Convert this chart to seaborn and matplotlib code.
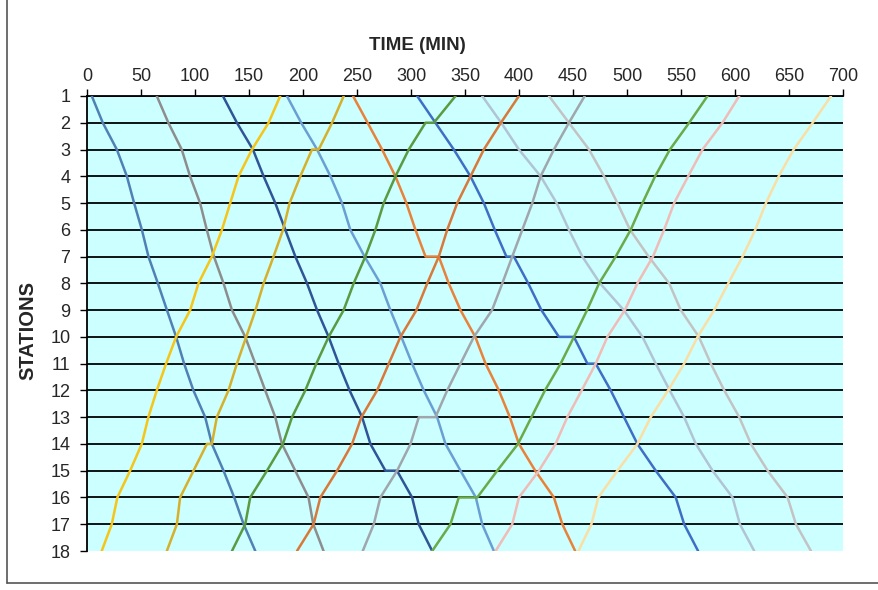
import matplotlib
matplotlib.use("Agg")
import matplotlib.pyplot as plt
import matplotlib.lines as mlines
import seaborn as sns
import pandas as pd

# ---------------- data ----------------
stations = list(range(1, 19))
down = list(range(1, 19))
up = list(range(18, 0, -1))
x_ticks = list(range(0, 701, 50))

# Trains running station 1 -> 18
t_A = [4.4, 14.6, 27.6, 36.9, 43.6, 50.8, 56.9, 65.6, 74, 82.5, 89.9, 98.5, 109.4, 115.6, 126.4, 136.3, 145, 155.8]
s_A = down
t_B = [64.6, 75.3, 87.7, 95.4, 104.7, 110.9, 117.5, 126.4, 134.2, 146.5, 155.8, 165, 174.3, 180.5, 192.8, 205.1, 209.5, 219]
s_B = down
t_C = [125.8, 138.8, 153.6, 163.5, 174.3, 183.6, 192.9, 203.7, 213, 223.7, 233, 243.1, 254.7, 262.4, 276.3, 287, 301, 307.1, 319.6]
s_C = [1, 2, 3, 4, 5, 6, 7, 8, 9, 10, 11, 12, 13, 14, 15, 15, 16, 17, 18]
t_D = [185.1, 198.3, 213, 225.4, 236.1, 243.8, 257, 271.6, 280.9, 291, 301, 311.8, 324.2, 331.9, 345.8, 360, 365.9, 376.7]
s_D = down
t_E = [246.3, 259.8, 273.2, 285.5, 295.7, 304.1, 313.4, 325.7, 334.9, 345.8, 359.5, 369, 381.3, 391.5, 399.9, 415, 432.3, 440.1, 452]
s_E = [1, 2, 3, 4, 5, 6, 7, 7, 8, 9, 10, 11, 12, 13, 14, 15, 16, 17, 18]
t_F = [305.7, 322.6, 339.6, 355, 367.4, 377.5, 388.3, 395.2, 408.5, 420.7, 436.9, 450.8, 463.3, 471, 484.9, 497.2, 509.6, 526.6, 545.1, 552.9, 565.8]
s_F = [1, 2, 3, 4, 5, 6, 7, 7, 8, 9, 10, 10, 11, 11, 12, 13, 14, 15, 16, 17, 18]
t_G = [365.9, 383.5, 399.9, 420, 434.8, 446.2, 458.6, 475, 497, 514.3, 526.6, 539.5, 552.9, 563.7, 579.2, 597.7, 604.5, 617.8]
s_G = down
t_H = [427.7, 446.2, 464.8, 478.7, 491.1, 502.8, 520, 539, 549.8, 566.5, 577.6, 590, 603.9, 614.7, 630.2, 648.7, 656.4, 670.3]
s_H = down

# Trains running station 18 -> 1
t_I = [255.3, 265.5, 271.6, 287.1, 299.5, 307.2, 322.6, 333.5, 345.8, 358.2, 375, 384.5, 393.7, 403, 412.3, 420, 432.3, 446.2, 460.8]
s_I = [18, 17, 16, 15, 14, 13, 13, 12, 11, 10, 9, 8, 7, 6, 5, 4, 3, 2, 1]
t_J = [455, 467, 473.4, 491.1, 509.6, 521.9, 538, 552.9, 565.3, 580.7, 593.7, 607, 618.7, 628.6, 640.4, 654.3, 671.9, 688.9]
s_J = up
t_K = [378.3, 393.7, 399.9, 418.4, 433.8, 444.7, 458, 471, 481.8, 498, 509.6, 524, 534.3, 543.6, 556.6, 569.9, 588.4, 603.9]
s_K = up
t_L = [319.6, 336.5, 344.2, 361.3, 379.8, 399, 411.5, 424, 438.5, 450.9, 463, 474.1, 489.5, 503.4, 514.3, 526, 539.7, 557.5, 574.5]
s_L = [18, 17, 16, 16, 15, 14, 13, 12, 11, 10, 9, 8, 7, 6, 5, 4, 3, 2, 1]
t_M = [194.4, 209.8, 216, 231.5, 245.4, 254, 268.6, 279.4, 290.2, 305, 315, 325.7, 333.5, 342.8, 355.1, 367.4, 383.2, 399.9]
s_M = up
t_N = [134.2, 146.5, 151.1, 166.6, 181.4, 189.8, 202.1, 212.3, 223.7, 237.6, 246.9, 257.7, 267, 274.7, 285.6, 297.9, 313.4, 321.1, 341.2]
s_N = [18, 17, 16, 15, 14, 13, 12, 11, 10, 9, 8, 7, 6, 5, 4, 3, 2, 2, 1]
t_P = [13.6, 22.9, 28.1, 39.9, 50.7, 56.8, 64.6, 73.2, 82.5, 95.5, 103.2, 115.6, 124.9, 132.6, 140.3, 152.7, 168.1, 178.9]
s_P = up
t_Q = [73.9, 83.2, 86.2, 98.6, 111, 115.6, 120.2, 131, 138.8, 147.4, 156, 163.5, 172.7, 181.5, 187.6, 197.5, 208.3, 214.5, 226.9, 237.7]
s_Q = [18, 17, 16, 15, 14, 14, 13, 12, 11, 10, 9, 8, 7, 6, 5, 4, 3, 3, 2, 1]

trains = {
    "A": (t_A, s_A), "B": (t_B, s_B), "C": (t_C, s_C), "D": (t_D, s_D),
    "E": (t_E, s_E), "F": (t_F, s_F), "G": (t_G, s_G), "H": (t_H, s_H),
    "I": (t_I, s_I), "J": (t_J, s_J), "K": (t_K, s_K), "L": (t_L, s_L),
    "M": (t_M, s_M), "N": (t_N, s_N), "P": (t_P, s_P), "Q": (t_Q, s_Q),
}
colors = {
    "A": "#4f81b5", "B": "#8d8d8d", "C": "#2f5597", "D": "#6a9fd4",
    "E": "#e8823a", "F": "#3f6fc4", "G": "#b0c4d4", "H": "#c3c3c3",
    "I": "#a0a6ab", "J": "#fadfa5", "K": "#f0bcb8", "L": "#6aaa48",
    "M": "#d8793a", "N": "#5a9a40", "P": "#f5c518", "Q": "#d6b02a",
}

rows = []
for name, (ts, ss) in trains.items():
    for i, (t, s) in enumerate(zip(ts, ss)):
        rows.append({"train": name, "order": i, "time": t, "station": s})
df = pd.DataFrame(rows)

# ---------------- figure ----------------
sns.set_theme(style="white")
plt.rcParams["font.family"] = ["Liberation Sans", "DejaVu Sans"]

fig = plt.figure(figsize=(8.79, 5.90), dpi=100)
ax = fig.add_axes([0.099, 0.0661, 0.8601, 0.7712])
ax.set_facecolor("#ccffff")

for s in stations[:-1]:
    ax.axhline(s, color="black", lw=1.3, zorder=1)

sns.lineplot(data=df, x="time", y="station", hue="train", units="train",
             palette=colors, sort=False, estimator=None, legend=False,
             lw=1.8, ax=ax, zorder=3)

ax.set_xlim(0, 700)
ax.set_ylim(18, 1)
ax.set_xticks(x_ticks)
ax.set_xticklabels([str(v) for v in x_ticks])
ax.set_yticks(stations)
ax.set_yticklabels([str(v) for v in stations])
ax.xaxis.set_ticks_position("top")
ax.xaxis.set_label_position("top")
ax.tick_params(axis="x", direction="out", length=5, width=1, color="black",
               labelsize=13, pad=3, top=True, bottom=False, labeltop=True, labelbottom=False)
ax.tick_params(axis="y", direction="out", length=5, width=1, color="black",
               labelsize=13, pad=7, left=True)
ax.set_xlabel("")
ax.set_ylabel("")

for side in ["right", "bottom"]:
    ax.spines[side].set_visible(False)
for side in ["left", "top"]:
    ax.spines[side].set_visible(True)
    ax.spines[side].set_color("black")
    ax.spines[side].set_linewidth(1.3)

fig.text(417 / 879, 1 - 45 / 590, "TIME (MIN)", ha="center", va="center",
         fontsize=13.5, fontweight="bold")
fig.text(28 / 879, 1 - 331 / 590, "STATIONS", ha="center", va="center",
         rotation=90, fontsize=14.5, fontweight="bold")

# outer chart frame (left and bottom edges visible in the crop)
fig.add_artist(mlines.Line2D([7 / 879, 7 / 879], [1.0, 1 - 583 / 590],
                             transform=fig.transFigure, color="#555555", lw=1.2))
fig.add_artist(mlines.Line2D([7 / 879, 1.0], [1 - 583 / 590, 1 - 583 / 590],
                             transform=fig.transFigure, color="#555555", lw=1.2))

fig.savefig("out.png", dpi=100)
